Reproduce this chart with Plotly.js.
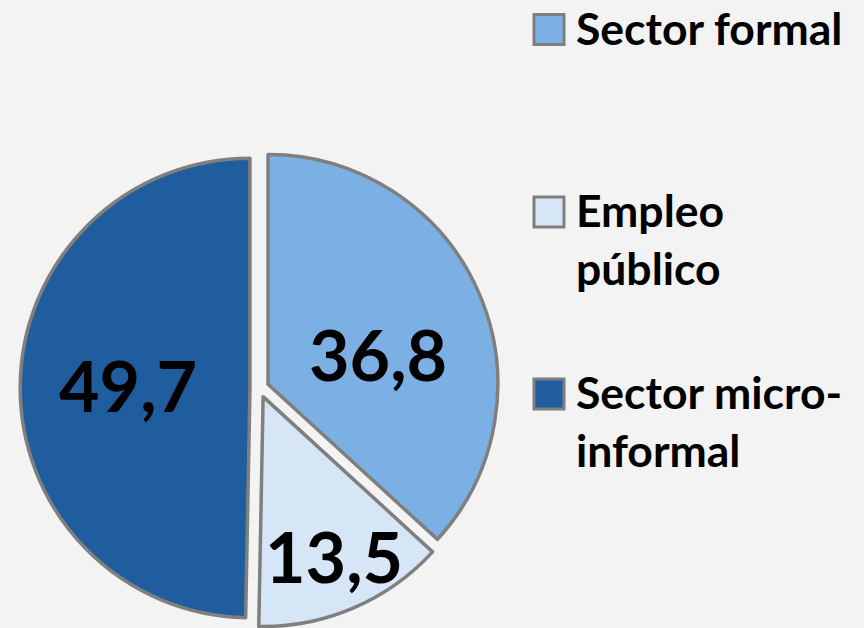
<!DOCTYPE html>
<html>
<head>
<meta charset="utf-8">
<script src="https://cdn.plot.ly/plotly-3.0.1.min.js"></script>
<style>html,body{margin:0;padding:0;background:#f3f3f3;}</style>
</head>
<body>
<div id="chart" style="width:864px;height:628px;"></div>
<script>
// Data
var categories = ["Sector formal", "Empleo público", "Sector micro-informal"];
var legendLabels = ["Sector formal", "Empleo<br>público", "Sector micro-<br>informal"];
var values = [36.8, 13.5, 49.7];
var valueLabels = ["36,8", "13,5", "49,7"];

// Styles
var colors = ["#7cb0e5", "#d6e6f7", "#1f5d9f"];
var W = 864, H = 628;
// label positions in pixels (style)
var labelPx = [[378, 354], [334, 556], [128, 385]];
// legend square centres (pixels)
var legendPx = [[549, 29.5], [549, 212], [549, 394]];
var legendFont = 44.5;

function px(x){return x/W;}
function py(y){return 1 - y/H;}

var trace = {
  type: "pie",
  labels: categories,
  values: values,
  sort: false,
  direction: "clockwise",
  rotation: 0,
  pull: [0.041, 0.041, 0.041],
  marker: {colors: colors, line: {color: "#7f7f7f", width: 3.5}},
  textinfo: "none",
  hoverinfo: "label+value",
  showlegend: false,
  domain: {x: [20.2/W, 498.6/W], y: [py(627.2), py(148.8)]}
};

var annotations = [];
var shapes = [];
for (var i = 0; i < categories.length; i++) {
  annotations.push({
    xref: "paper", yref: "paper",
    x: px(labelPx[i][0]), y: py(labelPx[i][1]),
    xanchor: "center", yanchor: "middle",
    text: valueLabels[i], showarrow: false,
    font: {family: "Lato, 'Open Sans', sans-serif", size: 70, color: "#000", weight: 700}
  });
  var s = 15;
  shapes.push({
    type: "rect", xref: "paper", yref: "paper",
    x0: px(legendPx[i][0]-s), x1: px(legendPx[i][0]+s),
    y0: py(legendPx[i][1]+s), y1: py(legendPx[i][1]-s),
    fillcolor: colors[i], line: {color: "#7f7f7f", width: 3}
  });
  annotations.push({
    xref: "paper", yref: "paper",
    x: px(574), y: py(legendPx[i][1] - 0.65*legendFont - 2),
    xanchor: "left", yanchor: "top", align: "left",
    text: legendLabels[i], showarrow: false,
    font: {family: "Lato, 'Open Sans', sans-serif", size: legendFont, color: "#000", weight: 700}
  });
}

var layout = {
  width: W, height: H,
  margin: {l: 0, r: 0, t: 0, b: 0},
  paper_bgcolor: "#f3f3f3",
  plot_bgcolor: "#f3f3f3",
  showlegend: false,
  annotations: annotations,
  shapes: shapes
};

Plotly.newPlot("chart", [trace], layout, {displayModeBar: false, staticPlot: true});
</script>
</body>
</html>
